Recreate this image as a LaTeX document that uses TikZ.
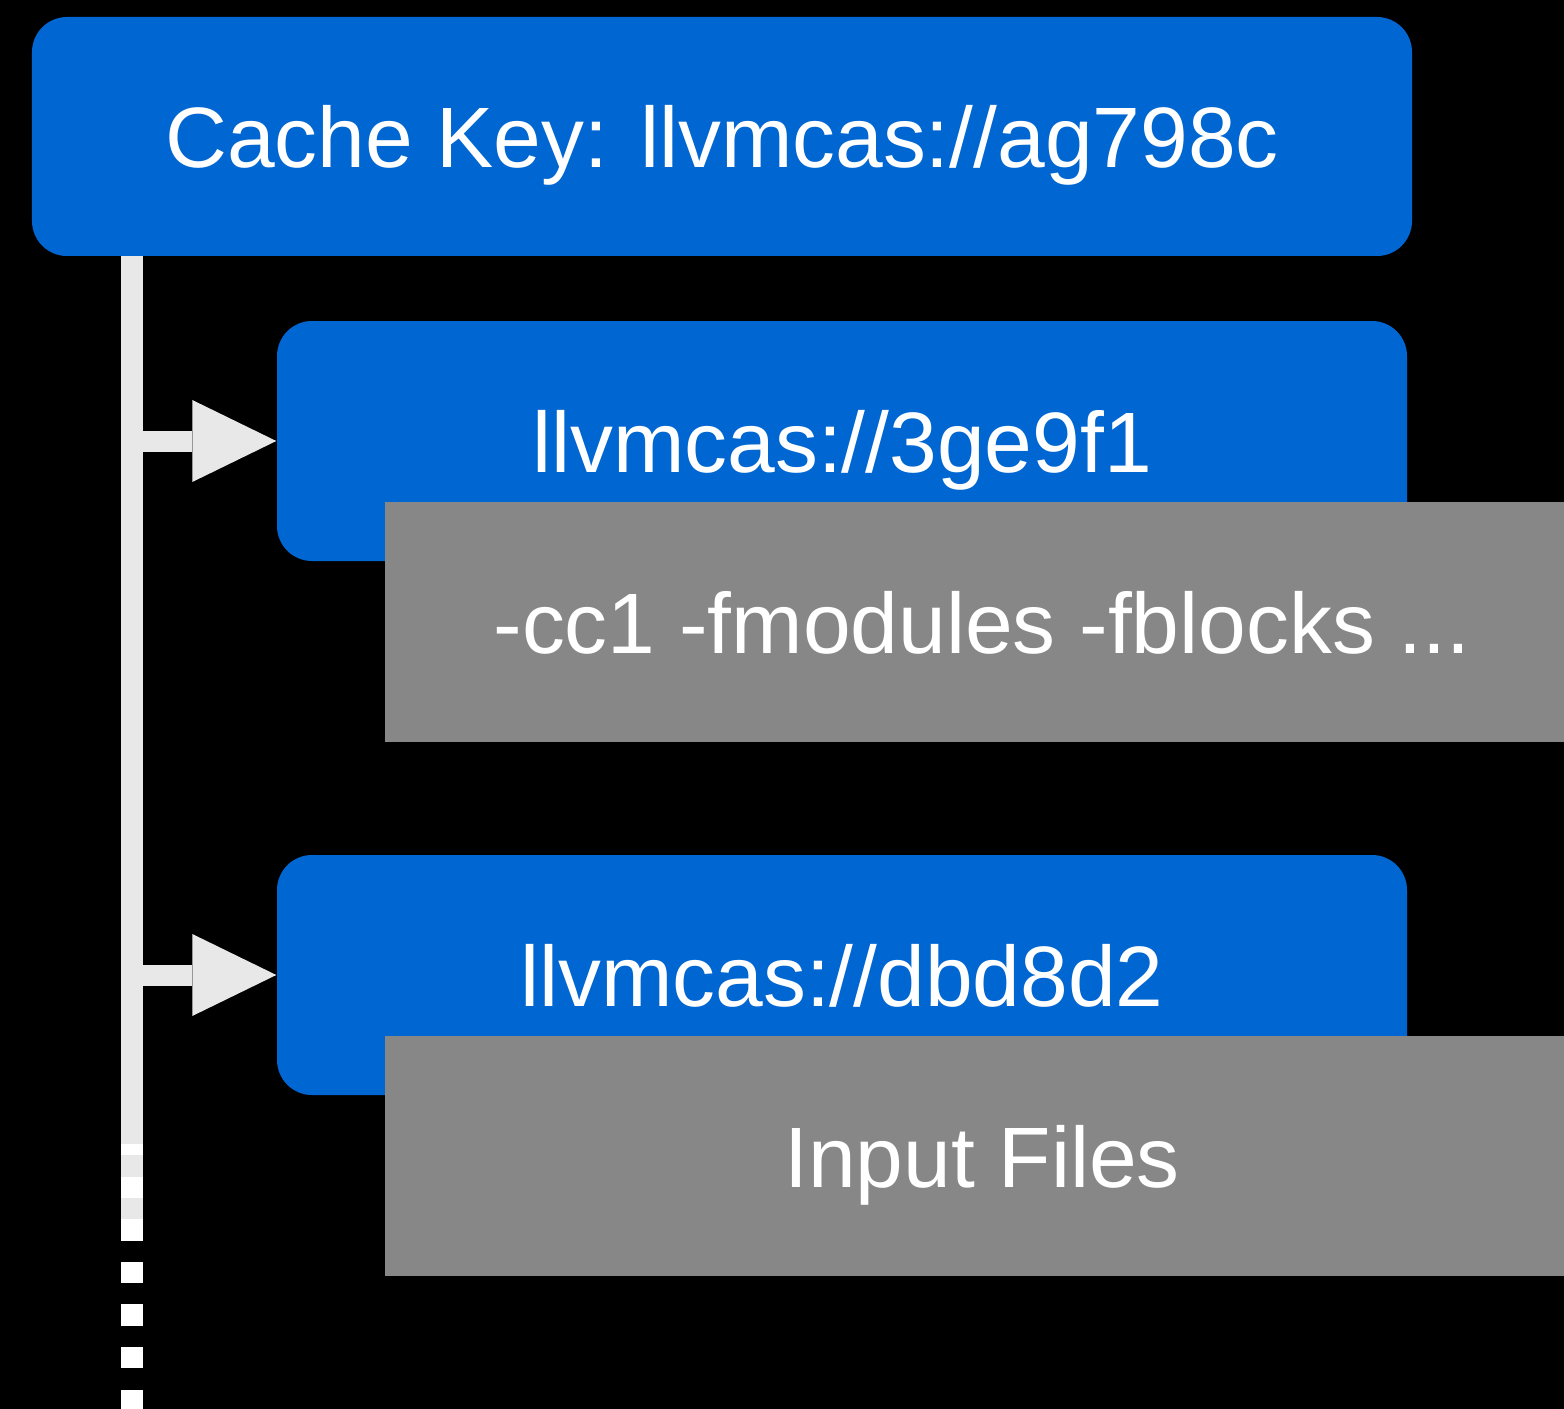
\documentclass[tikz,border=0pt]{standalone}
\usepackage{fontspec}
\setmainfont{Liberation Sans}
\usetikzlibrary{arrows.meta}
\definecolor{keyblue}{HTML}{0066D2}
\definecolor{argsgrey}{HTML}{878787}
\definecolor{linegrey}{HTML}{E8E8E8}
\begin{document}
\begin{tikzpicture}[line join=miter, line cap=butt,
	keybox/.style={fill=keyblue, rounded corners=0.35cm, text=white, minimum height=2.4cm, inner sep=0pt, text height=0.62cm, text depth=0pt},
	argbox/.style={fill=argsgrey, text=white, minimum height=2.4cm, minimum width=11.94cm, inner sep=0pt, text height=0.62cm, text depth=0pt},
	trunk/.style={draw=linegrey, line width=0.22cm},
	branch/.style={draw=linegrey, line width=0.21cm, -{Triangle[length=0.84cm, width=0.82cm, line width=0pt]}},
	font=\fontsize{24.4}{29}\selectfont]
	\fill[black] (0,0) rectangle (15.64,-14.09);
	\useasboundingbox (0,0) rectangle (15.64,-14.09);
	\coordinate (trunktop) at (1.32,-2.5);
	\coordinate (trunkend) at (1.32,-12.40);
	\coordinate (dotstart) at (1.32,-11.44);
	\coordinate (dotend) at (1.32,-14.3);
	\draw[trunk] (trunktop) -- (trunkend);
	\draw[draw=white, line width=0.22cm, dash pattern=on 0.213cm off 0.213cm, dash phase=0.10cm] (dotstart) -- (dotend);
	\node[keybox, minimum width=13.8cm, minimum height=2.39cm] (key) at (7.22,-1.365) {Cache Key: llvmcas://ag798c};
	\node[keybox, minimum width=11.3cm] (k1) at (8.42,-4.41) {llvmcas://3ge9f1};
	\node[argbox] (a1) at (9.82,-6.22) {-cc1 -fmodules -fblocks ...};
	\node[keybox, minimum width=11.3cm] (k2) at (8.42,-9.75) {llvmcas://dbd8d2};
	\node[argbox] (a2) at (9.82,-11.56) {Input Files};
	\foreach \k in {k1,k2}
	\draw[branch] (\k.west -| trunktop) -- (\k.west);
\end{tikzpicture}
\end{document}
